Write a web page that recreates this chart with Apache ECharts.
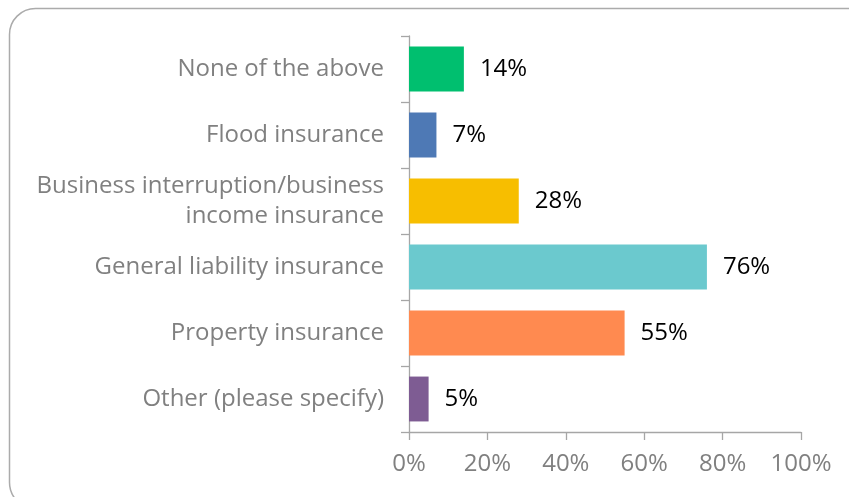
<!DOCTYPE html>
<html>
<head>
<meta charset="utf-8">
<script src="https://cdn.jsdelivr.net/npm/echarts@6/dist/echarts.min.js"></script>
<style>
  html, body { margin: 0; padding: 0; background: #fff; }
  #chart { width: 849px; height: 497px; }
</style>
</head>
<body>
<div id="chart"></div>
<script>
// Survey answers, listed top to bottom
const categories = [
  'None of the above',
  'Flood insurance',
  'Business interruption/business\nincome insurance',
  'General liability insurance',
  'Property insurance',
  'Other (please specify)'
];
const shares = [14, 7, 28, 76, 55, 5];
const tickValues = [0, 20, 40, 60, 80, 100];

// One fill per answer
const palette = ['#00bf6f', '#4e79b5', '#f7be00', '#6bc9ce', '#ff8a50', '#7e5c93'];

const FONT = '"Open Sans", "Liberation Sans", sans-serif';
const AXIS_GREY = '#a6a6a6';
const TEXT_GREY = '#808080';

const chart = echarts.init(document.getElementById('chart'), null, { renderer: 'canvas' });

chart.setOption({
  animation: false,
  backgroundColor: '#ffffff',
  textStyle: { fontFamily: FONT },
  graphic: [{
    type: 'rect',
    left: 7,
    top: 6,
    shape: { width: 866, height: 500, r: 26 },
    style: { fill: 'none', stroke: '#ababab', lineWidth: 1.5 },
    silent: true,
    z: -1
  }],
  grid: { left: 409, right: 48, top: 36, bottom: 65, containLabel: false },
  xAxis: {
    type: 'value',
    min: tickValues[0],
    max: tickValues[tickValues.length - 1],
    interval: tickValues[1] - tickValues[0],
    axisLine: { show: true, lineStyle: { color: AXIS_GREY, width: 1.3 } },
    axisTick: { show: true, length: 8, lineStyle: { color: AXIS_GREY, width: 1.3 } },
    splitLine: { show: false },
    axisLabel: {
      formatter: '{value}%',
      color: TEXT_GREY,
      fontSize: 24,
      fontFamily: FONT,
      margin: 20
    }
  },
  yAxis: {
    type: 'category',
    inverse: true,
    data: categories,
    axisLine: { show: true, lineStyle: { color: AXIS_GREY, width: 1.3 } },
    axisTick: { show: true, length: 8, alignWithLabel: false, lineStyle: { color: AXIS_GREY, width: 1.3 } },
    axisLabel: {
      color: TEXT_GREY,
      fontSize: 24,
      fontFamily: FONT,
      margin: 25,
      lineHeight: 30,
      align: 'right'
    }
  },
  series: [{
    type: 'bar',
    barCategoryGap: '32%',
    data: shares.map((v, i) => ({ value: v, itemStyle: { color: palette[i] } })),
    label: {
      show: true,
      position: 'right',
      distance: 16,
      formatter: '{c}%',
      color: '#000000',
      fontSize: 24,
      fontFamily: FONT
    }
  }]
});
</script>
</body>
</html>
